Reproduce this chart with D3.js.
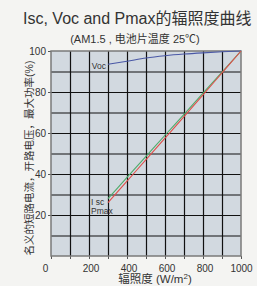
<!DOCTYPE html>
<html lang="zh">
<head>
  <meta charset="UTF-8">
  <title>Isc, Voc and Pmax</title>
  <script src="https://cdn.jsdelivr.net/npm/d3@7"></script>
  <style>
    body { margin: 0; background: #f4f4f2; }
    text { font-family: "Liberation Sans", "Noto Sans CJK SC", sans-serif; fill: #333; }
    .grid line { stroke: #111; stroke-width: 1.2; }
    .grid path { stroke: none; }
    .axis path { stroke: none; }
    .axis line { stroke: #555; }
  </style>
</head>
<body>
<script>
  // data
  var irradiance = [300, 400, 500, 600, 700, 800, 900, 1000];
  var vocValues  = [93.5, 95.0, 96.6, 97.7, 98.5, 99.1, 99.6, 100];
  var iscValues  = [28, 38.3, 48.6, 58.9, 69.1, 79.4, 89.7, 100];
  var pmaxValues = [26, 36.5, 47, 57.5, 68, 78.6, 89.3, 100];
  var xTicks = [0, 200, 400, 600, 800, 1000];
  var yTicks = [20, 40, 60, 80, 100];

  var W = 257, H = 286;
  var margin = {top: 51, right: 16, bottom: 30, left: 51};
  var width = W - margin.left - margin.right,
      height = H - margin.top - margin.bottom;

  var x = d3.scaleLinear().domain([0, 1000]).range([0, width]);
  var y = d3.scaleLinear().domain([0, 100]).range([height, 0]);

  var svg = d3.select("body").append("svg")
    .attr("width", W).attr("height", H);

  svg.append("text")
    .attr("x", 23).attr("y", 24)
    .attr("font-size", "16px")
    .text("Isc, Voc and Pmax的辐照度曲线");

  svg.append("text")
    .attr("x", 135).attr("y", 43)
    .attr("text-anchor", "middle")
    .attr("font-size", "11px")
    .text("(AM1.5 , 电池片温度 25℃)");

  var g = svg.append("g")
    .attr("transform", "translate(" + margin.left + "," + margin.top + ")");

  g.append("rect")
    .attr("width", width).attr("height", height)
    .attr("fill", "#d2d9e0");

  // grid
  g.append("g").attr("class", "grid")
    .call(d3.axisLeft(y).tickValues(d3.range(10, 100, 10)).tickSize(-width).tickFormat(""));
  g.append("g").attr("class", "grid")
    .call(d3.axisBottom(x).tickValues(d3.range(100, 1000, 100)).tickSize(height).tickFormat(""));

  // axes
  var yAxis = g.append("g").attr("class", "axis")
    .call(d3.axisLeft(y).tickValues(yTicks).tickSize(3).tickPadding(2));
  yAxis.selectAll("text").attr("font-size", "10px");

  var xAxis = g.append("g").attr("class", "axis")
    .attr("transform", "translate(0," + height + ")")
    .call(d3.axisBottom(x).tickValues(d3.range(0, 1001, 100)).tickSize(3).tickPadding(6)
      .tickFormat(function(d) { return xTicks.indexOf(d) >= 0 ? d : ""; }));
  xAxis.selectAll("text").attr("font-size", "10px")
    .attr("dx", function(d) { return d === 0 ? -6 : (d === 1000 ? 0 : 1.5); });

  g.append("rect")
    .attr("width", width).attr("height", height)
    .attr("fill", "none").attr("stroke", "#7a7a7a").attr("stroke-width", 1.5);

  // curves
  var line = d3.line()
    .x(function(d) { return x(d[0]); })
    .y(function(d) { return y(d[1]); })
    .curve(d3.curveMonotoneX);

  var series = [
    {name: "Voc", values: vocValues, color: "#4a58a6"},
    {name: "Isc", values: iscValues, color: "#4faa6a"},
    {name: "Pmax", values: pmaxValues, color: "#e0504a"}
  ];

  series.forEach(function(s) {
    g.append("path")
      .datum(irradiance.map(function(v, i) { return [v, s.values[i]]; }))
      .attr("fill", "none")
      .attr("stroke", s.color)
      .attr("stroke-width", 1.1)
      .attr("d", line);
  });

  // curve labels
  g.append("text")
    .attr("x", x(300) - 2).attr("y", y(vocValues[0]) + 5)
    .attr("text-anchor", "end")
    .attr("font-size", "8.5px")
    .text("Voc");
  g.append("text")
    .attr("x", x(300) - 17).attr("y", y(iscValues[0]) + 6)
    .attr("font-size", "8.5px")
    .text("I sc");
  g.append("text")
    .attr("x", x(300) - 17).attr("y", y(iscValues[0]) + 15)
    .attr("font-size", "8.5px")
    .text("Pmax");

  // axis titles
  svg.append("text")
    .attr("transform", "translate(33,158) rotate(-90)")
    .attr("text-anchor", "middle")
    .attr("font-size", "10.5px")
    .text("名义的短路电流，开路电压，最大功率(%)");

  var xt = svg.append("text")
    .attr("x", 155).attr("y", 283)
    .attr("text-anchor", "middle")
    .attr("font-size", "11.5px")
    .text("辐照度 (W/m");
  xt.append("tspan").attr("dy", -4).attr("font-size", "8px").text("2");
  xt.append("tspan").attr("dy", 4).text(")");
</script>
</body>
</html>
